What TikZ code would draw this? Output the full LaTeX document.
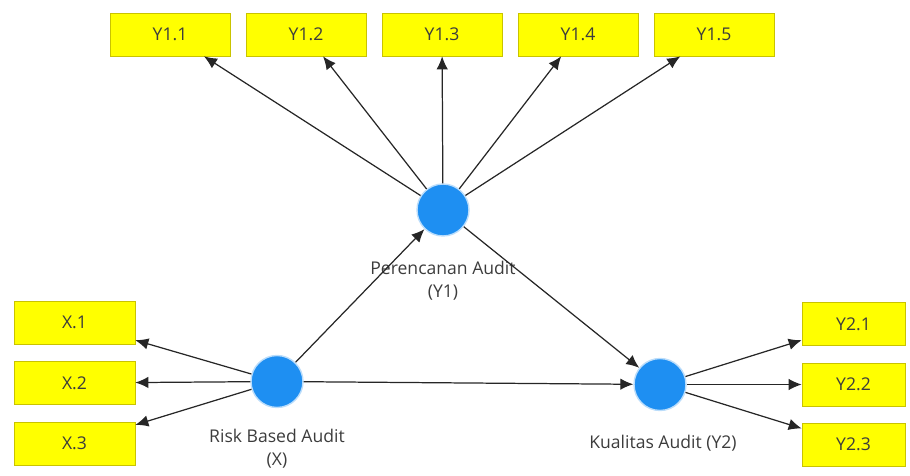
\documentclass[tikz,border=0pt]{standalone}
\usepackage{fontspec}
\setmainfont{Open Sans}
\definecolor{plsKuning}{HTML}{FFFF00}
\definecolor{plsGaris}{HTML}{C9C300}
\definecolor{plsBiru}{HTML}{1E8FF2}
\definecolor{plsTeks}{HTML}{3C3C3C}
\usetikzlibrary{
	arrows.meta,
	positioning
}
\tikzset{
	indikator/.style={
		draw=plsGaris,
		fill=plsKuning,
		minimum width=2.4cm,
		minimum height=0.86cm,
		inner sep=0pt,
		font=\normalsize,
		text=plsTeks
	},
	konstruk/.style={
		circle,
		draw=plsBiru!30,
		line width=0.8pt,
		fill=plsBiru,
		minimum size=1.04cm,
		inner sep=0pt
	},
	keterangan/.style={
		align=center,
		inner sep=1pt,
		font=\normalsize,
		text=plsTeks
	},
	panah/.style={
		-{Latex[length=2.6mm, width=2.3mm]},
		line width=0.7pt,
		black!85
	}
}

\begin{document}
\begin{tikzpicture}[x=0.02cm, y=-0.02cm]
		\useasboundingbox (0,0) rectangle (910,476);
		\clip (0,0) rectangle (910,476);
		% konstruk
		\node[konstruk] (perencanaan) at (443,210) {};
		\node[konstruk] (risiko) at (277,381.5) {};
		\node[konstruk] (kualitas) at (660,384.5) {};
		\node[keterangan] (ketY1) at (443,281) {Perencanan Audit\\[1pt](Y1)};
		\node[keterangan] (ketX) at (277,449) {Risk Based Audit\\[1pt](X)};
		\node[keterangan] (ketY2) at (663,443) {Kualitas Audit (Y2)};
		% indikator Y1
		\node[indikator] (y11) at (170,34.5) {Y1.1};
		\node[indikator] (y12) at (306,34.5) {Y1.2};
		\node[indikator] (y13) at (442,34.5) {Y1.3};
		\node[indikator] (y14) at (578,34.5) {Y1.4};
		\node[indikator] (y15) at (714,34.5) {Y1.5};
		% indikator X
		\node[indikator, minimum width=2.42cm] (x1) at (74.5,322.5) {X.1};
		\node[indikator, minimum width=2.42cm] (x2) at (74.5,383) {X.2};
		\node[indikator, minimum width=2.42cm] (x3) at (74.5,443.5) {X.3};
		% indikator Y2
		\node[indikator, minimum width=2.06cm] (y21) at (853.5,324) {Y2.1};
		\node[indikator, minimum width=2.06cm] (y22) at (853.5,384.5) {Y2.2};
		\node[indikator, minimum width=2.06cm] (y23) at (853.5,444.5) {Y2.3};
		% panah
		\draw[panah] (perencanaan) -- (y11);
		\draw[panah] (perencanaan) -- (y12);
		\draw[panah] (perencanaan) -- (y13);
		\draw[panah] (perencanaan) -- (y14);
		\draw[panah] (perencanaan) -- (y15);
		\draw[panah] (risiko) -- (x1);
		\draw[panah] (risiko) -- (x2);
		\draw[panah] (risiko) -- (x3);
		\draw[panah] (kualitas) -- (y21);
		\draw[panah] (kualitas) -- (y22);
		\draw[panah] (kualitas) -- (y23);
		\draw[panah] (risiko) -- (perencanaan);
		\draw[panah] (risiko) -- (kualitas);
		\draw[panah] (perencanaan) -- (kualitas);
	\end{tikzpicture}
\end{document}
